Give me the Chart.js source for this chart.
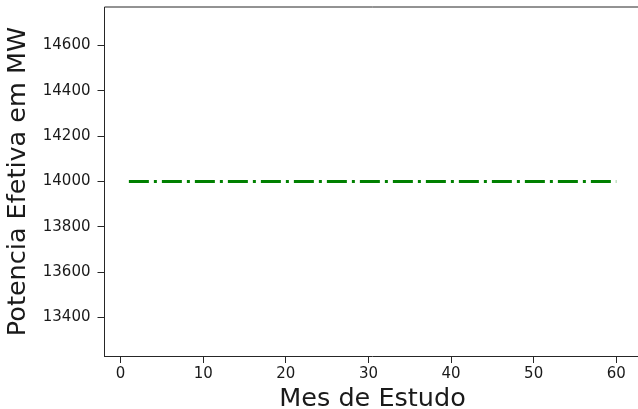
<!DOCTYPE html>
<html>
<head>
<meta charset="utf-8">
<script src="https://cdn.jsdelivr.net/npm/chart.js@4.4.1/dist/chart.umd.min.js"></script>
<style>
  html, body { margin: 0; padding: 0; background: #fff; overflow: hidden; }
  #wrap { width: 645px; height: 409px; }
</style>
</head>
<body>
<div id="wrap"><canvas id="potChart" width="645" height="409"></canvas></div>
<script>
// =====================
//  DATA
// =====================
const months = [
    1, 2, 3, 4, 5, 6, 7, 8, 9, 10, 11, 12, 13, 14, 15, 16, 17, 18, 19, 20,
    21, 22, 23, 24, 25, 26, 27, 28, 29, 30, 31, 32, 33, 34, 35, 36, 37, 38, 39, 40,
    41, 42, 43, 44, 45, 46, 47, 48, 49, 50, 51, 52, 53, 54, 55, 56, 57, 58, 59, 60
];
const potencia = [
    14000, 14000, 14000, 14000, 14000, 14000, 14000, 14000, 14000, 14000,
    14000, 14000, 14000, 14000, 14000, 14000, 14000, 14000, 14000, 14000,
    14000, 14000, 14000, 14000, 14000, 14000, 14000, 14000, 14000, 14000,
    14000, 14000, 14000, 14000, 14000, 14000, 14000, 14000, 14000, 14000,
    14000, 14000, 14000, 14000, 14000, 14000, 14000, 14000, 14000, 14000,
    14000, 14000, 14000, 14000, 14000, 14000, 14000, 14000, 14000, 14000
];
const xTicks = [0, 10, 20, 30, 40, 50, 60];
const yTicks = [13400, 13600, 13800, 14000, 14200, 14400, 14600];

const AXIS_COLOR = "#262626";
const TEXT_COLOR = "#1a1a1a";
const FONT = "'DejaVu Sans', sans-serif";

// caixa completa (spines de cima e da direita)
const boxPlugin = {
    id: "box",
    afterDraw(chart) {
        const { ctx, chartArea: a } = chart;
        ctx.save();
        ctx.strokeStyle = AXIS_COLOR;
        ctx.lineWidth = 1;
        ctx.beginPath();
        ctx.moveTo(a.left, a.top);
        ctx.lineTo(a.right, a.top);
        ctx.lineTo(a.right, a.bottom);
        ctx.stroke();
        ctx.restore();
    }
};

const ctx = document.getElementById("potChart").getContext("2d");

new Chart(ctx, {
    type: "line",
    data: {
        datasets: [
            {
                label: "Potencia",
                data: months.map((m, i) => ({ x: m, y: potencia[i] })),
                borderColor: "#008000",
                borderWidth: 3,
                borderDash: [20, 5, 3, 5],
                borderCapStyle: "butt",
                pointRadius: 0,
                fill: false,
                tension: 0
            }
        ]
    },
    options: {
        responsive: false,
        animation: false,
        layout: { padding: { top: 7, right: 4.4, left: 0, bottom: 0 } },
        plugins: {
            legend: { display: false },
            tooltip: { enabled: false }
        },
        scales: {
            x: {
                type: "linear",
                min: -1.95,
                max: 62.95,
                afterFit: (s) => {
                    s.height = 53;
                    s.paddingLeft = 0;
                    s.paddingRight = 0;
                },
                afterBuildTicks: (s) => { s.ticks = xTicks.map((v) => ({ value: v })); },
                grid: {
                    drawOnChartArea: false,
                    drawTicks: true,
                    tickLength: 7,
                    tickColor: AXIS_COLOR
                },
                border: { display: true, color: AXIS_COLOR, width: 1 },
                ticks: {
                    color: TEXT_COLOR,
                    padding: 2,
                    maxRotation: 0,
                    callback: (v) => String(v),
                    font: { family: FONT, size: 15 }
                },
                title: {
                    display: true,
                    text: "Mes de Estudo",
                    color: TEXT_COLOR,
                    padding: { top: 0, bottom: -6 },
                    font: { family: FONT, size: 25.5 }
                }
            },
            y: {
                type: "linear",
                min: 13230,
                max: 14770,
                afterFit: (s) => {
                    s.width = 104.5;
                    s.paddingTop = 0;
                    s.paddingBottom = 0;
                },
                afterBuildTicks: (s) => { s.ticks = yTicks.map((v) => ({ value: v })); },
                grid: {
                    drawOnChartArea: false,
                    drawTicks: true,
                    tickLength: 7,
                    tickColor: AXIS_COLOR
                },
                border: { display: true, color: AXIS_COLOR, width: 1 },
                ticks: {
                    color: TEXT_COLOR,
                    padding: 7,
                    callback: (v) => String(v),
                    font: { family: FONT, size: 15 }
                },
                title: {
                    display: true,
                    text: "Potencia Efetiva em MW",
                    color: TEXT_COLOR,
                    padding: { top: 3.5, bottom: 0 },
                    font: { family: FONT, size: 25.5 }
                }
            }
        }
    },
    plugins: [boxPlugin]
});
</script>
</body>
</html>
